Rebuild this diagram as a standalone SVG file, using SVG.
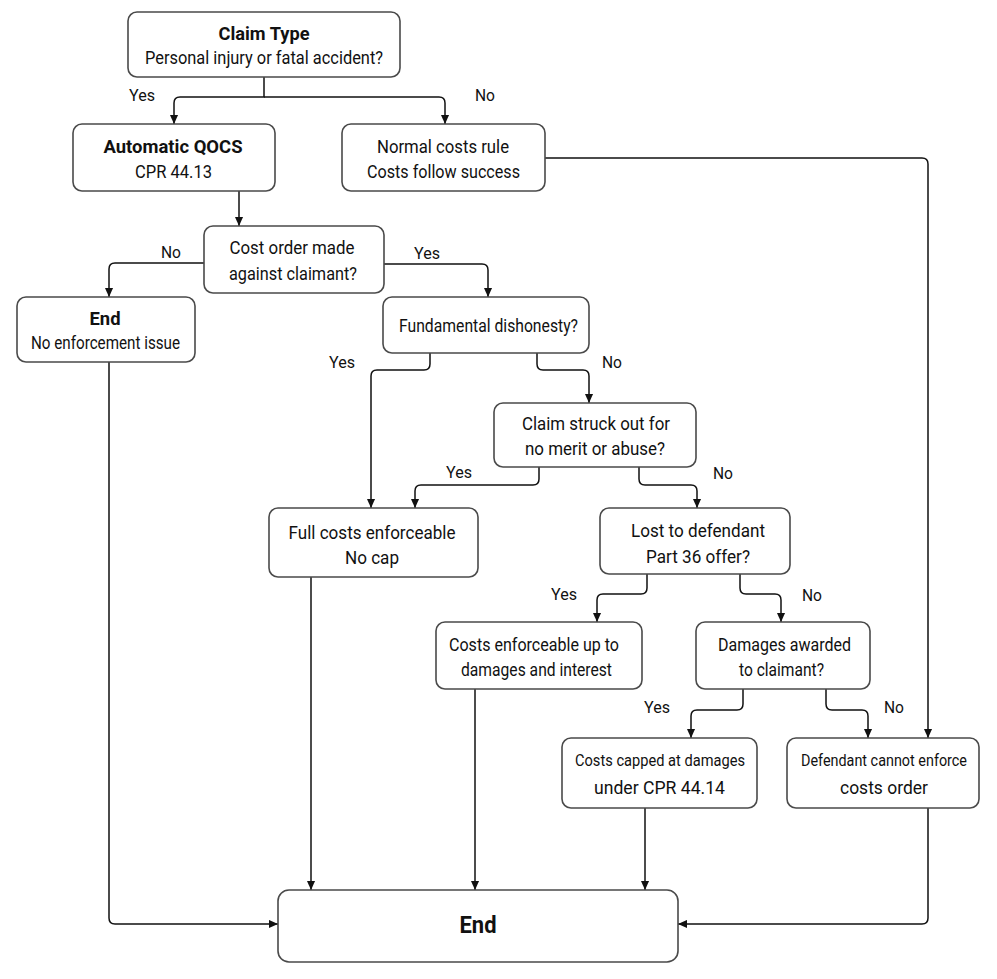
<svg xmlns="http://www.w3.org/2000/svg" width="997" height="979" viewBox="0 0 997 979">
<style>
.box{fill:#fff;stroke:#4a4a4a;stroke-width:1.6}
.t{font-family:Roboto,"Liberation Sans",Arial,sans-serif;font-size:18px;fill:#111;text-anchor:middle}
.s{font-size:16.5px}
.b{font-weight:bold}
.lbl{font-family:Roboto,"Liberation Sans",Arial,sans-serif;font-size:17px;fill:#111;text-anchor:middle}
.c{fill:none;stroke:#111;stroke-width:1.5}
</style>
<defs>
<marker id="ah" viewBox="0 0 10 10" refX="10" refY="5" markerWidth="10" markerHeight="9" markerUnits="userSpaceOnUse" orient="auto">
<path d="M0,0.5 L10,5 L0,9.5 z" fill="#111"/>
</marker>
</defs>
<rect width="997" height="979" fill="#fff"/>
<g id="connectors">
<path class="c" d="M264,77 V97 H180 Q174,97 174,103 V124" marker-end="url(#ah)"/>
<path class="c" d="M264,97 H439 Q445,97 445,103 V124" marker-end="url(#ah)"/>
<path class="c" d="M545,158 H922 Q928,158 928,164 V738" marker-end="url(#ah)"/>
<path class="c" d="M239,191 V226" marker-end="url(#ah)"/>
<path class="c" d="M204,263 H115 Q109,263 109,269 V297" marker-end="url(#ah)"/>
<path class="c" d="M384,264 H482 Q488,264 488,270 V297" marker-end="url(#ah)"/>
<path class="c" d="M430,353 V364 Q430,370 424,370 H377 Q371,370 371,376 V508" marker-end="url(#ah)"/>
<path class="c" d="M537,353 V364 Q537,370 543,370 H583 Q589,370 589,376 V403" marker-end="url(#ah)"/>
<path class="c" d="M539,467 V479 Q539,485 533,485 H421 Q415,485 415,491 V508" marker-end="url(#ah)"/>
<path class="c" d="M639,467 V479 Q639,485 645,485 H691 Q697,485 697,491 V508" marker-end="url(#ah)"/>
<path class="c" d="M647,574 V588 Q647,594 641,594 H603 Q597,594 597,600 V622" marker-end="url(#ah)"/>
<path class="c" d="M740,574 V588 Q740,594 746,594 H775 Q781,594 781,600 V622" marker-end="url(#ah)"/>
<path class="c" d="M743,689 V704 Q743,710 737,710 H697 Q691,710 691,716 V738" marker-end="url(#ah)"/>
<path class="c" d="M826,689 V704 Q826,710 832,710 H862 Q868,710 868,716 V738" marker-end="url(#ah)"/>
<path class="c" d="M109,362 V918 Q109,924 115,924 H278" marker-end="url(#ah)"/>
<path class="c" d="M311,577 V890" marker-end="url(#ah)"/>
<path class="c" d="M475,689 V890" marker-end="url(#ah)"/>
<path class="c" d="M645,808 V890" marker-end="url(#ah)"/>
<path class="c" d="M928,808 V918 Q928,924 922,924 H678" marker-end="url(#ah)"/>
</g>
<g id="labels">
<text class="lbl" x="142" y="101" textLength="26" lengthAdjust="spacingAndGlyphs">Yes</text>
<text class="lbl" x="485" y="101" textLength="20" lengthAdjust="spacingAndGlyphs">No</text>
<text class="lbl" x="171" y="258" textLength="20" lengthAdjust="spacingAndGlyphs">No</text>
<text class="lbl" x="427" y="259" textLength="26" lengthAdjust="spacingAndGlyphs">Yes</text>
<text class="lbl" x="342" y="368" textLength="26" lengthAdjust="spacingAndGlyphs">Yes</text>
<text class="lbl" x="612" y="368" textLength="20" lengthAdjust="spacingAndGlyphs">No</text>
<text class="lbl" x="459" y="478" textLength="26" lengthAdjust="spacingAndGlyphs">Yes</text>
<text class="lbl" x="723" y="479" textLength="20" lengthAdjust="spacingAndGlyphs">No</text>
<text class="lbl" x="564" y="600" textLength="26" lengthAdjust="spacingAndGlyphs">Yes</text>
<text class="lbl" x="812" y="601" textLength="20" lengthAdjust="spacingAndGlyphs">No</text>
<text class="lbl" x="657" y="713" textLength="26" lengthAdjust="spacingAndGlyphs">Yes</text>
<text class="lbl" x="894" y="713" textLength="20" lengthAdjust="spacingAndGlyphs">No</text>
</g>
<g id="claim-type">
<rect class="box" x="128" y="12" width="272" height="65" rx="9"/>
<text class="t b" x="264" y="39.5" textLength="91" lengthAdjust="spacingAndGlyphs">Claim Type</text>
<text class="t" x="264" y="63.5" textLength="238" lengthAdjust="spacingAndGlyphs">Personal injury or fatal accident?</text>
</g>
<g id="automatic-qocs">
<rect class="box" x="73" y="124" width="202" height="67" rx="9"/>
<text class="t b" x="173" y="152.5" textLength="139" lengthAdjust="spacingAndGlyphs">Automatic QOCS</text>
<text class="t" x="173.5" y="177.5" textLength="77" lengthAdjust="spacingAndGlyphs">CPR 44.13</text>
</g>
<g id="normal-costs">
<rect class="box" x="342" y="124" width="203" height="67" rx="9"/>
<text class="t" x="443" y="152.5" textLength="132" lengthAdjust="spacingAndGlyphs">Normal costs rule</text>
<text class="t" x="443.5" y="177.5" textLength="153" lengthAdjust="spacingAndGlyphs">Costs follow success</text>
</g>
<g id="cost-order">
<rect class="box" x="204" y="226" width="180" height="67" rx="9"/>
<text class="t" x="292" y="253.5" textLength="125" lengthAdjust="spacingAndGlyphs">Cost order made</text>
<text class="t" x="293" y="279.5" textLength="128" lengthAdjust="spacingAndGlyphs">against claimant?</text>
</g>
<g id="end-no-enforcement">
<rect class="box" x="17" y="297" width="178" height="65" rx="9"/>
<text class="t b" x="105" y="324.5" textLength="31" lengthAdjust="spacingAndGlyphs">End</text>
<text class="t" x="105.5" y="348.5" textLength="149" lengthAdjust="spacingAndGlyphs">No enforcement issue</text>
</g>
<g id="fundamental-dishonesty">
<rect class="box" x="383" y="297" width="206" height="56" rx="9"/>
<text class="t" x="488.5" y="331.5" textLength="179" lengthAdjust="spacingAndGlyphs">Fundamental dishonesty?</text>
</g>
<g id="claim-struck-out">
<rect class="box" x="494" y="403" width="202" height="64" rx="9"/>
<text class="t" x="596" y="429.5" textLength="148" lengthAdjust="spacingAndGlyphs">Claim struck out for</text>
<text class="t" x="595" y="454.5" textLength="140" lengthAdjust="spacingAndGlyphs">no merit or abuse?</text>
</g>
<g id="full-costs">
<rect class="box" x="269" y="508" width="209" height="69" rx="9"/>
<text class="t" x="372" y="538.5" textLength="167" lengthAdjust="spacingAndGlyphs">Full costs enforceable</text>
<text class="t" x="372" y="563.5" textLength="54" lengthAdjust="spacingAndGlyphs">No cap</text>
</g>
<g id="lost-part36">
<rect class="box" x="600" y="508" width="190" height="66" rx="9"/>
<text class="t" x="698" y="536.5" textLength="134" lengthAdjust="spacingAndGlyphs">Lost to defendant</text>
<text class="t" x="698" y="562.5" textLength="104" lengthAdjust="spacingAndGlyphs">Part 36 offer?</text>
</g>
<g id="costs-enforceable">
<rect class="box" x="436" y="622" width="206" height="67" rx="9"/>
<text class="t" x="534" y="650.5" textLength="170" lengthAdjust="spacingAndGlyphs">Costs enforceable up to</text>
<text class="t" x="536.5" y="675.5" textLength="151" lengthAdjust="spacingAndGlyphs">damages and interest</text>
</g>
<g id="damages-awarded">
<rect class="box" x="696" y="622" width="174" height="67" rx="9"/>
<text class="t" x="784.5" y="650.5" textLength="133" lengthAdjust="spacingAndGlyphs">Damages awarded</text>
<text class="t" x="781.5" y="675.5" textLength="85" lengthAdjust="spacingAndGlyphs">to claimant?</text>
</g>
<g id="costs-capped">
<rect class="box" x="562" y="738" width="195" height="70" rx="9"/>
<text class="t s" x="660" y="766" textLength="170" lengthAdjust="spacingAndGlyphs">Costs capped at damages</text>
<text class="t" x="659.5" y="793.5" textLength="131" lengthAdjust="spacingAndGlyphs">under CPR 44.14</text>
</g>
<g id="defendant-cannot-enforce">
<rect class="box" x="787" y="738" width="192" height="70" rx="9"/>
<text class="t s" x="884" y="766" textLength="166" lengthAdjust="spacingAndGlyphs">Defendant cannot enforce</text>
<text class="t" x="884" y="793.5" textLength="88" lengthAdjust="spacingAndGlyphs">costs order</text>
</g>
<g id="end">
<rect class="box" x="278" y="890" width="400" height="72" rx="11"/>
<text class="t b" x="478" y="933" style="font-size:23px" textLength="37" lengthAdjust="spacingAndGlyphs">End</text>
</g>
</svg>
